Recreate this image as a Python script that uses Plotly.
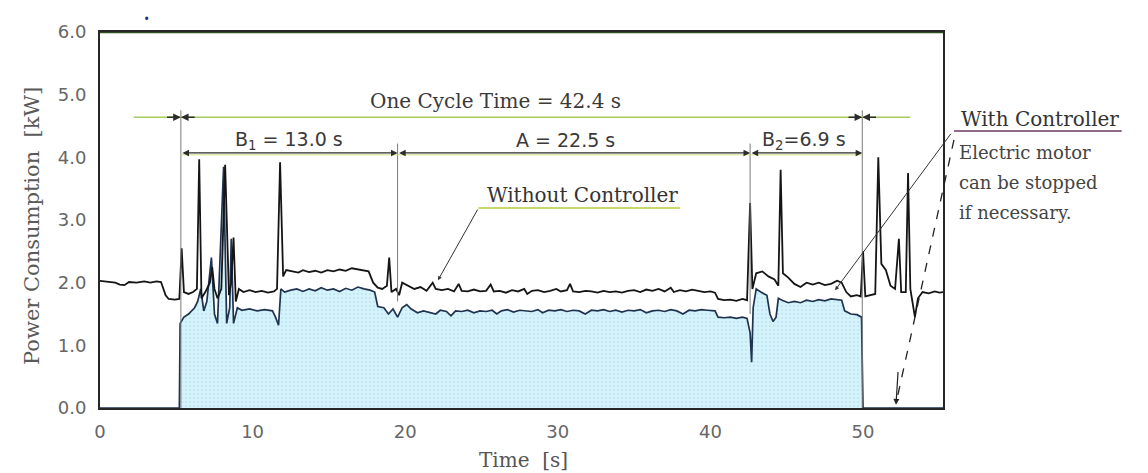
import plotly.graph_objects as go

# power trace without controller (s, kW)
t_without = [0.0, 0.5, 1.0, 1.3, 1.6, 1.9, 2.4, 2.9, 3.3, 3.7, 4.0, 4.3, 4.5, 4.9, 5.2,
             5.35, 5.5, 5.8, 6.1, 6.35, 6.5, 6.65, 6.9, 7.2, 7.35, 7.5, 7.7, 7.95, 8.2, 8.45,
             8.6, 8.75, 8.9, 9.1, 9.4, 9.8, 10.2, 10.6, 11.0, 11.4, 11.6, 11.8, 12.0, 12.2,
             12.6, 13.0, 13.3, 13.7, 14.1, 14.5, 14.9, 15.3, 15.7, 16.1, 16.5, 16.9, 17.3,
             17.6, 17.9, 18.2, 18.5, 18.8, 18.95, 19.1, 19.4, 19.6, 19.8, 20.2, 20.6, 21.0,
             21.4, 21.8, 22.0, 22.4, 22.8, 23.2, 23.5, 23.7, 24.1, 24.5, 24.9, 25.3, 25.6,
             25.8, 26.2, 26.6, 27.0, 27.4, 27.8, 28.0, 28.3, 28.7, 29.1, 29.5, 29.9, 30.2,
             30.6, 30.8, 31.0, 31.4, 31.8, 32.2, 32.6, 33.0, 33.4, 33.8, 34.2, 34.6, 35.0,
             35.4, 35.8, 36.2, 36.6, 37.0, 37.4, 37.6, 38.0, 38.4, 38.8, 39.2, 39.6, 40.0,
             40.3, 40.5, 40.9, 41.3, 41.7, 42.1, 42.4, 42.6, 42.75, 43.0, 43.4, 43.8, 44.2,
             44.45, 44.6, 44.75, 45.1, 45.5, 45.9, 46.3, 46.7, 47.1, 47.5, 47.9, 48.3, 48.6,
             48.9, 49.2, 49.6, 49.85, 50.0, 50.15, 50.5, 50.8, 51.0, 51.2, 51.5, 51.8, 52.1,
             52.35, 52.5, 52.8, 52.95, 53.1, 53.4, 53.6, 53.9, 54.3, 54.7, 55.0, 55.3]
p_without = [2.03, 2.02, 2.00, 1.97, 1.96, 2.01, 2.00, 2.02, 2.00, 2.02, 2.01, 1.80, 1.74, 1.73, 1.74,
             2.55, 1.85, 1.82, 1.85, 1.90, 3.97, 1.75, 1.85, 2.00, 2.25, 1.90, 1.75, 1.90, 3.88, 1.80,
             2.00, 2.72, 1.70, 1.90, 1.85, 1.88, 1.85, 1.87, 1.84, 1.86, 1.90, 3.92, 2.10, 2.20,
             2.18, 2.16, 2.20, 2.17, 2.19, 2.16, 2.20, 2.18, 2.21, 2.19, 2.23, 2.21, 2.20,
             2.18, 2.00, 1.92, 1.90, 1.95, 2.40, 1.85, 1.90, 1.80, 2.00, 1.95, 1.90, 1.93,
             1.87, 2.00, 1.90, 1.88, 1.90, 1.86, 1.98, 1.87, 1.86, 1.89, 1.86, 1.87, 1.97,
             1.86, 1.87, 1.84, 1.88, 1.86, 1.90, 1.82, 1.87, 1.88, 1.85, 1.87, 1.90, 1.86,
             1.88, 1.98, 1.86, 1.85, 1.87, 1.86, 1.84, 1.87, 1.85, 1.86, 1.84, 1.87, 1.88,
             1.85, 1.89, 1.87, 1.90, 1.86, 1.92, 1.85, 1.88, 1.86, 1.89, 1.87, 1.85, 1.86,
             1.84, 1.74, 1.72, 1.73, 1.71, 1.74, 1.72, 3.27, 1.90, 2.15, 2.18, 2.10, 2.05,
             1.95, 3.80, 2.15, 2.08, 1.98, 1.93, 2.00, 1.97, 2.00, 1.96, 1.98, 2.03, 2.00,
             1.85, 1.78, 1.80, 1.78, 2.50, 1.78, 1.80, 1.82, 4.00, 2.30, 2.20, 1.95, 1.90,
             2.70, 1.85, 1.85, 3.75, 1.90, 1.45, 1.75, 1.85, 1.83, 1.86, 1.84, 1.85]

# power trace with controller (s, kW)
t_with = [0.0, 5.2, 5.25, 5.5, 5.8, 6.0, 6.2, 6.4, 6.6, 6.8, 7.0, 7.3, 7.5, 7.7, 7.9, 8.1,
          8.3, 8.5, 8.6, 8.75, 9.0, 9.3, 9.8, 10.3, 10.8, 11.3, 11.5, 11.7, 11.85, 12.1,
          12.5, 12.9, 13.3, 13.7, 14.1, 14.5, 14.9, 15.3, 15.7, 16.1, 16.5, 16.9, 17.3,
          17.7, 18.0, 18.2, 18.6, 18.9, 19.2, 19.5, 19.8, 20.1, 20.4, 20.8, 21.2, 21.6,
          22.0, 22.3, 22.7, 23.0, 23.3, 23.7, 24.1, 24.5, 24.9, 25.3, 25.7, 26.0, 26.3,
          26.7, 27.1, 27.5, 27.9, 28.3, 28.7, 29.0, 29.4, 29.8, 30.2, 30.6, 31.0, 31.4,
          31.8, 32.2, 32.6, 33.0, 33.4, 33.8, 34.2, 34.6, 35.0, 35.4, 35.8, 36.2, 36.6,
          37.0, 37.4, 37.8, 38.2, 38.6, 39.0, 39.4, 39.8, 40.3, 40.5, 40.9, 41.3, 41.7,
          42.1, 42.4, 42.6, 42.7, 42.8, 43.0, 43.3, 43.7, 43.9, 44.1, 44.3, 44.45, 44.7,
          45.1, 45.5, 45.9, 46.3, 46.7, 47.1, 47.5, 47.9, 48.3, 48.6, 48.8, 49.2, 49.6,
          49.9, 50.0, 55.3]
p_with = [0.0, 0.0, 1.35, 1.45, 1.50, 1.55, 1.60, 1.70, 1.90, 1.55, 1.70, 2.40, 1.50, 1.35, 2.50, 3.85,
          1.35, 1.60, 2.70, 1.35, 1.60, 1.56, 1.58, 1.55, 1.57, 1.55, 1.45, 1.32, 1.90, 1.85,
          1.88, 1.90, 1.86, 1.90, 1.87, 1.92, 1.88, 1.90, 1.86, 1.91, 1.88, 1.93, 1.90,
          1.88, 1.85, 1.62, 1.60, 1.50, 1.58, 1.45, 1.60, 1.65, 1.58, 1.52, 1.55, 1.53,
          1.50, 1.56, 1.54, 1.47, 1.55, 1.54, 1.56, 1.52, 1.55, 1.54, 1.56, 1.50, 1.55,
          1.57, 1.53, 1.56, 1.55, 1.54, 1.57, 1.52, 1.56, 1.55, 1.57, 1.54, 1.56, 1.55,
          1.50, 1.56, 1.55, 1.57, 1.54, 1.56, 1.53, 1.56, 1.55, 1.57, 1.52, 1.55, 1.56,
          1.54, 1.57, 1.55, 1.50, 1.56, 1.55, 1.57, 1.56, 1.55, 1.45, 1.44, 1.45, 1.43,
          1.45, 1.43, 1.20, 0.73, 1.60, 1.90, 1.85, 1.80, 1.50, 1.38, 1.45, 1.75, 1.72,
          1.68, 1.70, 1.68, 1.72, 1.70, 1.73, 1.71, 1.74, 1.73, 1.72, 1.55, 1.50, 1.49,
          1.45, 0.0, 0.0]

# phase boundaries (s) and dimension labels
t_start = 5.3
t_b1_end = 19.5
t_a_end = 42.6
t_end = 49.95
cycle_label = "One Cycle Time = 42.4 s"
b1_label = "B<sub>1</sub> = 13.0 s"
a_label = "A = 22.5 s"
b2_label = "B<sub>2</sub>=6.9 s"

y_ticks = [0, 1, 2, 3, 4, 5, 6]
y_tick_labels = ["0.0", "1.0", "2.0", "3.0", "4.0", "5.0", "6.0"]
x_ticks = [0, 10, 20, 30, 40, 50]

serif = "DejaVu Serif, serif"
sans = "DejaVu Sans, sans-serif"
XMAX = 55.24

fig = go.Figure()

fig.add_trace(go.Scatter(
    x=t_with, y=p_with, mode="lines", fill="tozeroy",
    fillcolor="#d4f1fa",
    fillpattern=dict(shape=".", fgcolor="#a9dcec", bgcolor="#d6f3fb", size=4, solidity=0.25),
    line=dict(color="#1f3350", width=1.7), hoverinfo="skip"))
fig.add_trace(go.Scatter(
    x=t_without, y=p_without, mode="lines",
    line=dict(color="#151515", width=1.8), hoverinfo="skip"))

shapes = []
# extension lines at phase boundaries
for xv, y0, y1 in [(t_start, 0, 4.75), (t_b1_end, 1.7, 4.22), (t_a_end, 1.5, 4.22), (t_end, 0, 4.75)]:
    shapes.append(dict(type="line", xref="x", yref="y", x0=xv, x1=xv, y0=y0, y1=y1,
                       line=dict(color="#7a7a7a", width=1)))
# one-cycle green line
shapes.append(dict(type="line", xref="x", yref="y", x0=2.2, x1=53.1, y0=4.64, y1=4.64,
                   line=dict(color="#a6cc5c", width=1.6)))
# yellowish companion line under the B/A dimension lines
shapes.append(dict(type="line", xref="x", yref="y", x0=t_start, x1=t_end, y0=4.04, y1=4.04,
                   line=dict(color="#cfdf86", width=1)))
# top frame line (dark green)
shapes.append(dict(type="line", xref="x", yref="y", x0=0, x1=XMAX, y0=6, y1=6,
                   line=dict(color="#2f4d22", width=2.5)))
# "Without Controller" underline
shapes.append(dict(type="line", xref="x", yref="y", x0=24.8, x1=38.0, y0=3.19, y1=3.19,
                   line=dict(color="#c9d86a", width=2)))
# "With Controller" underline
shapes.append(dict(type="line", xref="paper", yref="paper", x0=1.013, x1=1.212, y0=0.737, y1=0.737,
                   line=dict(color="#8e6a8e", width=2)))
# dashed leader to motor stop
shapes.append(dict(type="line", xref="paper", yref="paper", x0=1.013, x1=0.946, y0=0.713, y1=0.03,
                   line=dict(color="#222", width=1.3, dash="dash")))

annotations = []


def dim(x0, x1, y):
    annotations.append(dict(x=x1, y=y, ax=x0, ay=y, xref="x", yref="y", axref="x", ayref="y",
                            text="", showarrow=True, arrowhead=2, arrowside="end+start",
                            arrowsize=1.1, arrowwidth=1.2, arrowcolor="#2c2c2c"))


dim(t_start, t_b1_end, 4.07)
dim(t_b1_end, t_a_end, 4.07)
dim(t_a_end, t_end, 4.07)

# one-cycle arrows at both boundaries
for xv in [t_start, t_end]:
    for tail in [xv - 1.0, xv + 1.0]:
        annotations.append(dict(x=xv, y=4.64, ax=tail, ay=4.64, xref="x", yref="y", axref="x", ayref="y",
                                text="", showarrow=True, arrowhead=2, arrowsize=1.1, arrowwidth=1.4,
                                arrowcolor="#2c2c2c"))

annotations += [
    dict(x=25.9, y=(408 - 101) / 62.67, xref="x", yref="y", text=cycle_label, showarrow=False,
         font=dict(family=serif, size=20, color="#3a3a3a")),
    dict(x=12.4, y=(408 - 140) / 62.67, xref="x", yref="y", text=b1_label, showarrow=False,
         font=dict(family=sans, size=19, color="#3a3a3a")),
    dict(x=30.5, y=(408 - 140) / 62.67, xref="x", yref="y", text=a_label, showarrow=False,
         font=dict(family=sans, size=19, color="#3a3a3a")),
    dict(x=46.1, y=(408 - 140) / 62.67, xref="x", yref="y", text=b2_label, showarrow=False,
         font=dict(family=sans, size=19, color="#3a3a3a")),
    dict(x=31.6, y=(408 - 195) / 62.67, xref="x", yref="y", text="Without Controller", showarrow=False,
         font=dict(family=serif, size=20, color="#333")),
    # leader to the without-controller trace
    dict(x=22.15, y=2.04, ax=24.8, ay=3.19, xref="x", yref="y", axref="x", ayref="y",
         text="", showarrow=True, arrowhead=2, arrowsize=0.8, arrowwidth=1, arrowcolor="#333"),
    # leader to the with-controller trace
    dict(x=48.17, y=1.88, ax=55.83, ay=4.40, xref="x", yref="y", axref="x", ayref="y",
         text="", showarrow=True, arrowhead=2, arrowsize=0.8, arrowwidth=1, arrowcolor="#333"),
    # arrowhead of dashed leader
    dict(x=52.16, y=0.05, ax=52.3, ay=0.6, xref="x", yref="y", axref="x", ayref="y",
         text="", showarrow=True, arrowhead=2, arrowsize=1, arrowwidth=1.2, arrowcolor="#222"),
    dict(x=(1040 - 100) / 843, y=(408 - 119) / 376, xref="paper", yref="paper",
         xanchor="center", yanchor="middle",
         text="With Controller", showarrow=False, font=dict(family=serif, size=20, color="#333")),
    dict(x=1.017, y=(408 - 152) / 376, xref="paper", yref="paper", xanchor="left", yanchor="middle",
         text="Electric motor", showarrow=False, font=dict(family=serif, size=18, color="#444")),
    dict(x=1.017, y=(408 - 182) / 376, xref="paper", yref="paper", xanchor="left", yanchor="middle",
         text="can be stopped", showarrow=False, font=dict(family=serif, size=18, color="#444")),
    dict(x=1.017, y=(408 - 212) / 376, xref="paper", yref="paper", xanchor="left", yanchor="middle",
         text="if necessary.", showarrow=False, font=dict(family=serif, size=18, color="#444")),
    dict(x=0, y=(408 - 226) / 376, xref="paper", yref="paper", xshift=-68, textangle=-90,
         xanchor="center", yanchor="middle",
         text="Power Consumption  [kW]", showarrow=False, font=dict(family=serif, size=21, color="#5a5a5a")),
    dict(x=(523 - 100) / 843, y=0, xref="paper", yref="paper", yshift=-52, yanchor="middle",
         text="Time  [s]", showarrow=False, font=dict(family=serif, size=20, color="#555")),
    dict(x=(142 - 100) / 843, y=(408 - 7) / 376, xref="paper", yref="paper",
         text="•", showarrow=False, font=dict(size=14, color="#1a2a80")),
]

# page body has an 8px margin, so the figure is 8px smaller than the window
fig.update_layout(
    width=1140, height=465,
    margin=dict(l=92, r=205, t=24, b=65),
    paper_bgcolor="white", plot_bgcolor="white",
    showlegend=False,
    shapes=shapes, annotations=annotations,
    xaxis=dict(range=[0, XMAX], tickvals=x_ticks, showgrid=False, zeroline=False,
               showline=True, mirror=True, linecolor="#262626", linewidth=2,
               ticks="", ticklabelstandoff=6,
               tickfont=dict(family=sans, size=18, color="#666")),
    yaxis=dict(range=[0, 6], tickvals=y_ticks, ticktext=y_tick_labels, showgrid=False,
               zeroline=False, showline=True, mirror=True, linecolor="#262626", linewidth=2,
               ticks="", ticklabelstandoff=8,
               tickfont=dict(family=sans, size=18, color="#666")),
)

fig.write_html("out.html")
